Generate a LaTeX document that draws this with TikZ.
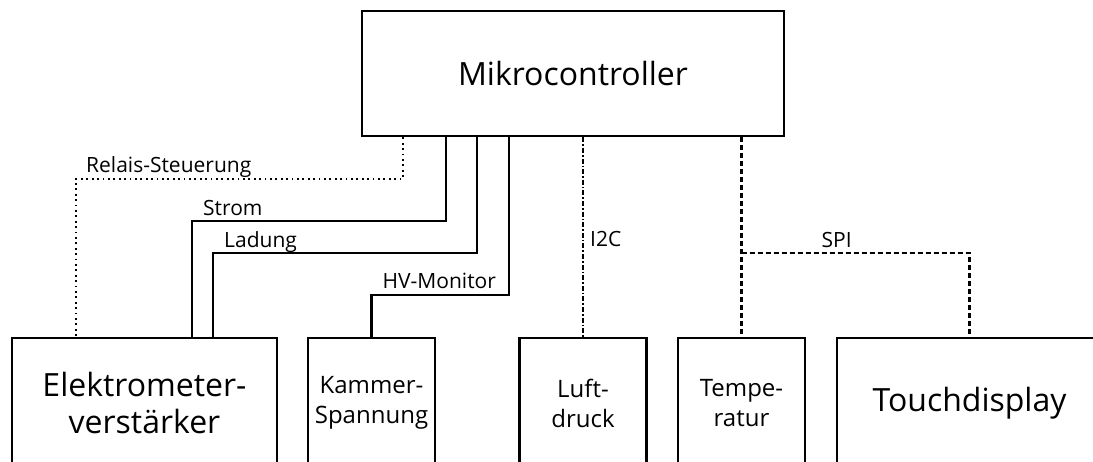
\documentclass[tikz,border=0pt]{standalone}
\usepackage{fontspec}
\setmainfont{Open Sans}
\usepackage{tikz}

\begin{document}
\begin{tikzpicture}[
  x=1pt, y=-1pt,
  blk/.style={draw, line width=2.8pt, align=center, inner sep=0pt},
  bigblk/.style={blk, font=\fontsize{32}{36}\selectfont},
  smallblk/.style={blk, font=\fontsize{24}{30}\selectfont,
                   minimum width=127pt, minimum height=130pt},
  sig/.style={line width=2.2pt},
  rel/.style={line width=2.2pt, dash pattern=on 1.8pt off 3.6pt},
  bus/.style={line width=2.4pt, dash pattern=on 5pt off 3pt},
  iic/.style={line width=2.2pt, dash pattern=on 5pt off 2pt on 1.6pt off 2pt},
  lbl/.style={font=\fontsize{21}{24}\selectfont, anchor=base west, inner sep=0pt}
]
  \useasboundingbox (0,0) rectangle (1093,462);
  \clip (0,0) rectangle (1093,462);
  % Steuerung oben
  \node[bigblk, minimum width=422pt, minimum height=125pt] (mikro) at (573,73.5) {Mikrocontroller};
  % Baugruppen unten (unten abgeschnitten)
  \node[bigblk, minimum width=265pt, minimum height=130pt] (elv) at (144.5,403) {Elektrometer-\\verstärker};
  \node[smallblk] (kam)  at (371.5,403) {Kammer-\\Spannung};
  \node[smallblk] (luft) at (583,403)   {Luft-\\druck};
  \node[smallblk] (temp) at (741.5,403) {Tempe-\\ratur};
  \node[bigblk, minimum width=265pt, minimum height=130pt] (touch) at (969.5,403) {Touchdisplay};
  % Knickpunkte
  \coordinate (relk)   at (76,179);
  \coordinate (stromk) at (192,221);
  \coordinate (ladk)   at (213,253);
  \coordinate (hvk)    at (371.5,295);
  \coordinate (spik)   at (741.5,253);
  % analoge Leitungen
  \draw[rel] ([xshift=-170pt]mikro.south) |- (relk) -- (relk |- elv.north);
  \draw[sig] ([xshift=-127pt]mikro.south) |- (stromk) -- (stromk |- elv.north);
  \draw[sig] ([xshift=-96pt]mikro.south) |- (ladk) -- (ladk |- elv.north);
  \draw[sig] ([xshift=-64pt]mikro.south) |- (hvk) -- (kam.north);
  % Busse
  \draw[iic] (luft.north |- mikro.south) -- (luft.north);
  \draw[bus] (temp.north |- mikro.south) -- (temp.north);
  \draw[bus] (spik) -| (touch.north);
  % Beschriftungen
  \node[lbl] (lrel)   at ([xshift=10pt,yshift=6pt]relk)   {Relais-Steuerung};
  \node[lbl] (lstrom) at ([xshift=11pt,yshift=5pt]stromk) {Strom};
  \node[lbl] (llad)   at ([xshift=11pt,yshift=5pt]ladk)   {Ladung};
  \node[lbl] (lhv)    at ([xshift=11pt,yshift=6pt]hvk)    {HV-Monitor};
  \node[lbl] (liic)   at (590,247) {I2C};
  \node[lbl] (lspi)   at ([xshift=80pt,yshift=5pt]spik)   {SPI};
\end{tikzpicture}
\end{document}
